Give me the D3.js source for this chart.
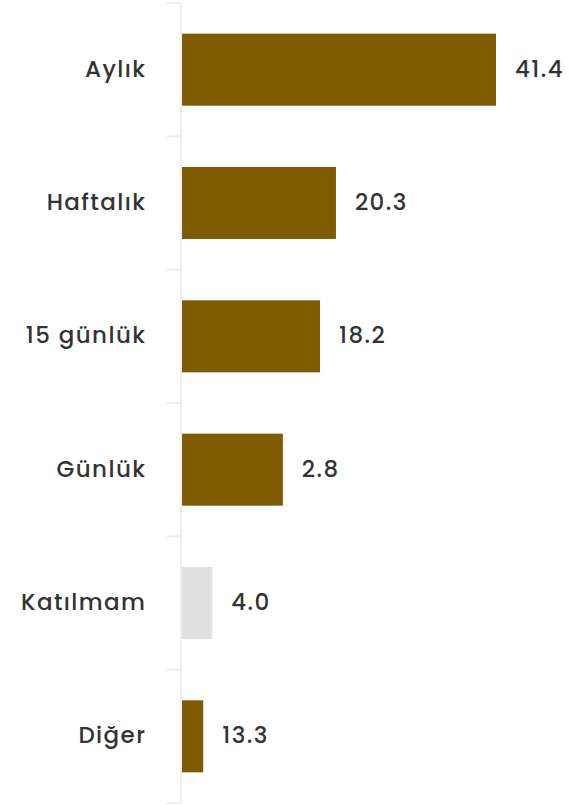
<!DOCTYPE html>
<html><head><meta charset="utf-8">
<script src="https://cdn.jsdelivr.net/npm/d3@7"></script>
<style>body{margin:0;background:#fff}svg{display:block}text{font-family:Poppins,Inter,"Open Sans",sans-serif}</style>
</head><body><svg id="c" width="569" height="805"></svg>
<script>
const categories = ["Aylık","Haftalık","15 günlük","Günlük","Katılmam","Diğer"];
const barValues = [41.4, 20.3, 18.2, 13.3, 4.0, 2.8];
const valueLabels = ["41.4","20.3","18.2","2.8","4.0","13.3"];
const barColors = ["#7f5c00","#7f5c00","#7f5c00","#7f5c00","#e0e0e0","#7f5c00"];

const svg = d3.select("#c");
const axisX = 181;
const ls = 1.4;
const y = d3.scaleBand().domain(categories).range([3, 803]).paddingInner(0.46).paddingOuter(0.23);
const x = d3.scaleLinear().domain([0, 41.4]).range([182, 496]);

const bounds = d3.range(categories.length + 1).map(i => 3 + i * (800 / categories.length));
svg.append("line").attr("x1", axisX).attr("x2", axisX).attr("y1", 3).attr("y2", 803)
  .attr("stroke", "#efefef").attr("stroke-width", 2);
svg.selectAll("line.tick").data(bounds).join("line").attr("class","tick")
  .attr("x1", 166).attr("x2", axisX).attr("y1", d => d).attr("y2", d => d)
  .attr("stroke", "#efefef").attr("stroke-width", 2);

const data = categories.map((c, i) => ({c, v: barValues[i], l: valueLabels[i], col: barColors[i]}));
svg.selectAll("rect.bar").data(data).join("rect").attr("class","bar")
  .attr("x", x(0)).attr("y", d => y(d.c)).attr("width", d => x(d.v) - x(0))
  .attr("height", y.bandwidth()).attr("fill", d => d.col);

svg.selectAll("text.cat").data(data).join("text").attr("class","cat")
  .attr("x", 145 + ls).attr("y", d => y(d.c) + y.bandwidth()/2).attr("dy","0.3em")
  .attr("text-anchor","end").attr("font-size", 23).attr("font-weight", 500).attr("letter-spacing", ls)
  .attr("fill","#333").text(d => d.c);

svg.selectAll("text.val").data(data).join("text").attr("class","val")
  .attr("x", d => x(d.v) + 19).attr("y", d => y(d.c) + y.bandwidth()/2).attr("dy","0.3em")
  .attr("font-size", 23).attr("font-weight", 500).attr("letter-spacing", ls).attr("fill","#333").text(d => d.l);
</script></body></html>
